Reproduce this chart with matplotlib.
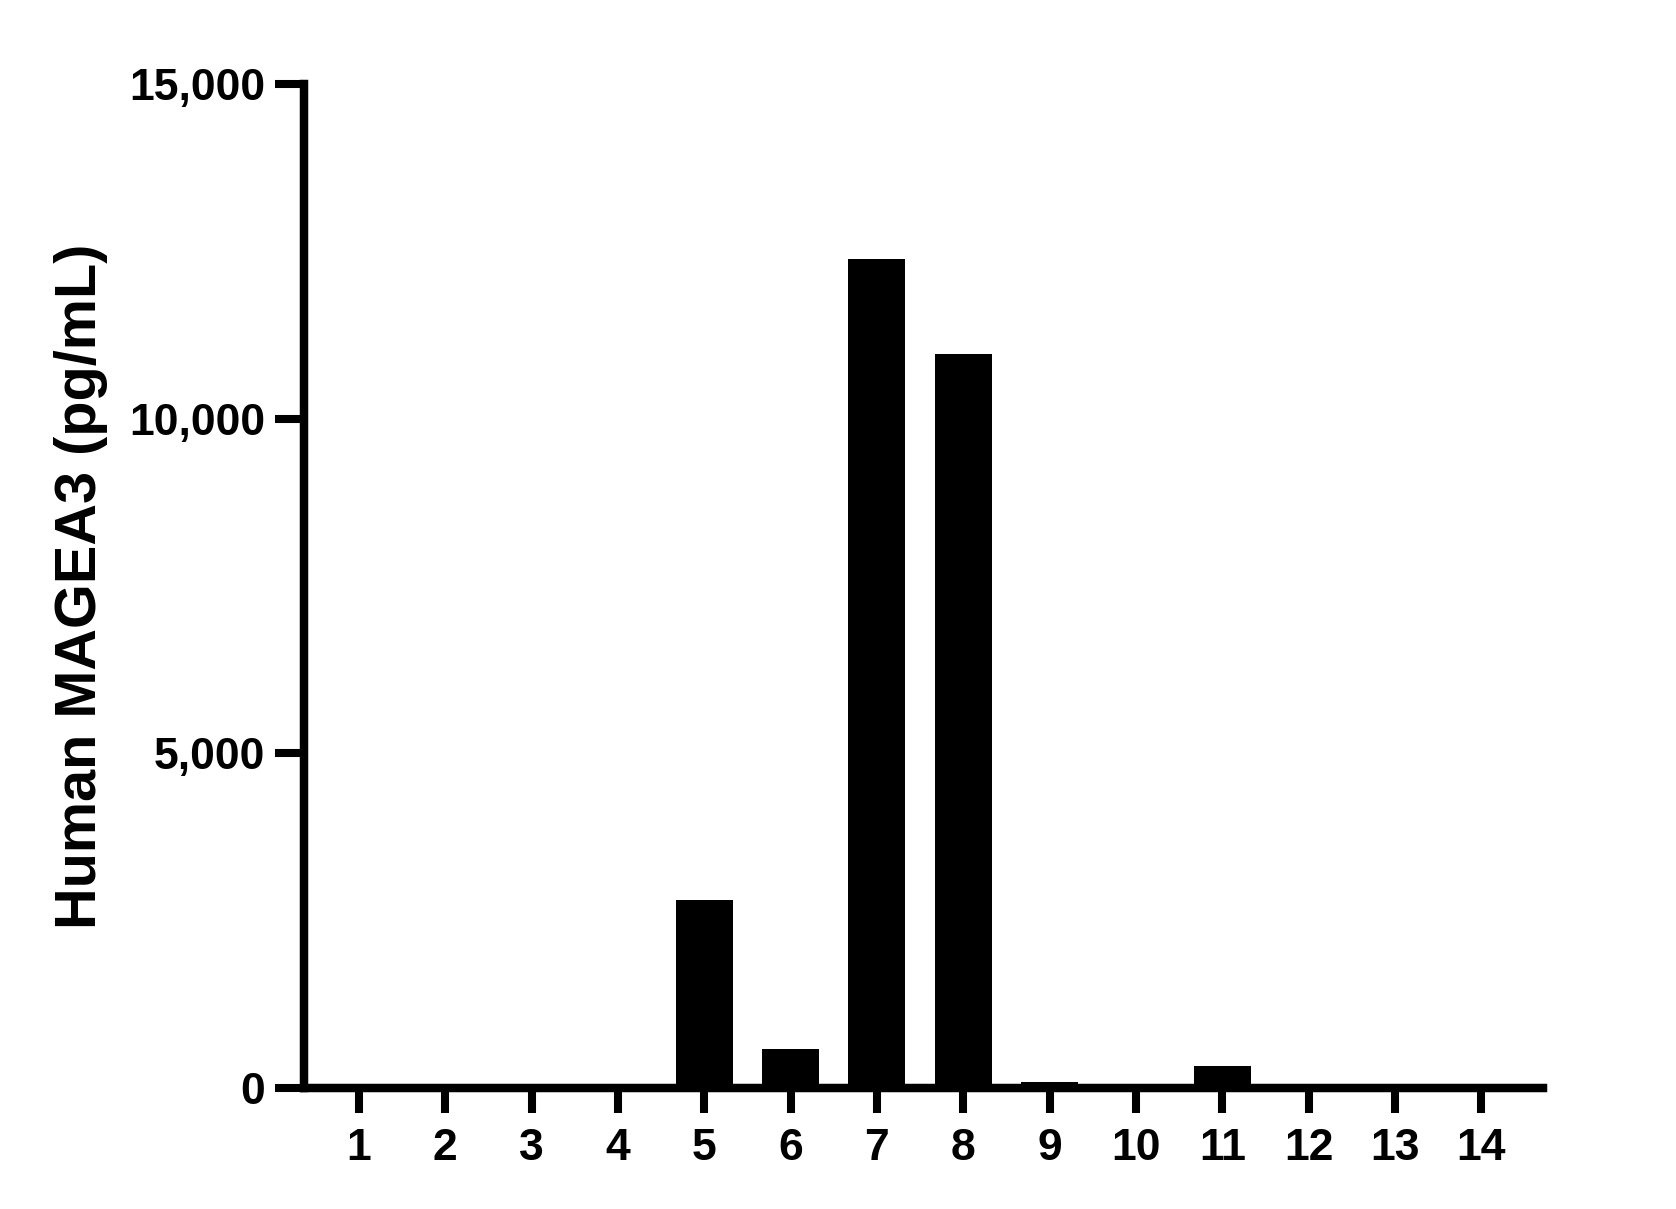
import matplotlib
matplotlib.use("Agg")
import matplotlib.pyplot as plt

# sample numbers on the x axis and measured concentrations
samples = [1, 2, 3, 4, 5, 6, 7, 8, 9, 10, 11, 12, 13, 14]
mage_a3 = [0, 0, 0, 0, 2810, 583, 12380, 10960, 90, 10, 330, 50, 0, 0]
y_ticks = [0, 5000, 10000, 15000]
y_tick_labels = ["0", "5,000", "10,000", "15,000"]

plt.rcParams['font.family'] = ['Liberation Sans', 'DejaVu Sans']
plt.rcParams['font.weight'] = 'bold'

fig = plt.figure(figsize=(16.76, 12.09), dpi=100)
ax = fig.add_axes([0.1814, 0.1001, 0.7395, 0.8304])

ax.bar(samples, mage_a3, width=0.66, color='black', linewidth=0)

ax.set_xlim(0.364, 14.72)
ax.set_ylim(0, 15000)
ax.set_xticks(samples)
ax.set_xticklabels([str(s) for s in samples])
ax.set_yticks(y_ticks)
ax.set_yticklabels(y_tick_labels)

for side in ['top', 'right']:
    ax.spines[side].set_visible(False)
for side in ['left', 'bottom']:
    ax.spines[side].set_linewidth(6.1)
    ax.spines[side].set_capstyle('projecting')

ax.tick_params(axis='y', length=21, width=5.8, pad=7, labelsize=32)
ax.tick_params(axis='x', length=18, width=5.8, pad=10.5, labelsize=32)

ax.set_ylabel("Human MAGEA3 (pg/mL)", fontsize=41.5, fontweight='bold')
ax.yaxis.set_label_coords(-0.158, 0.5)

fig.savefig("out.png", dpi=100)
plt.close(fig)
